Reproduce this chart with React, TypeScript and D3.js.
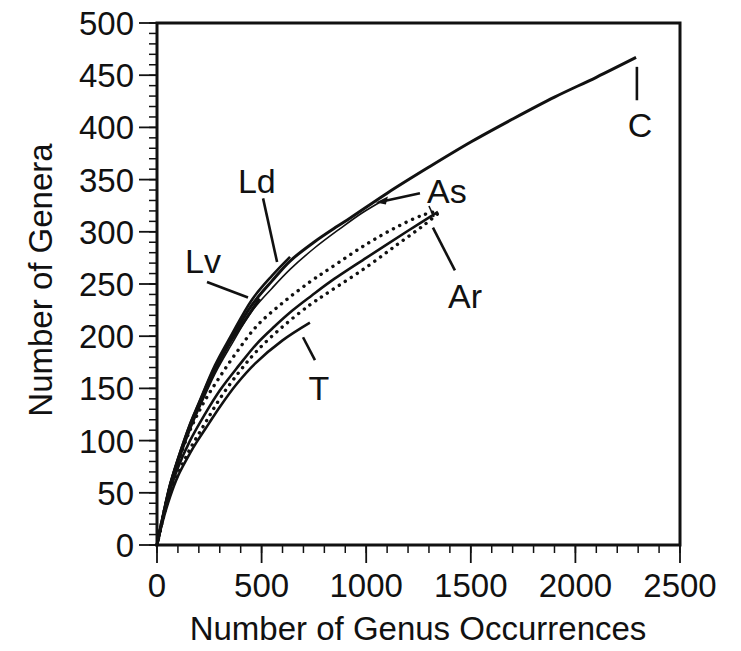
import React from "react";
import * as d3 from "d3";

type Pt = [number, number];

const seriesC: Pt[] = [[0,0],[25,24],[62,57],[100,82],[158,115],[200,135],[277,170],[350,196],[454,230],[550,253],[636,272],[750,290],[860,305],[922,313],[1100,337],[1300,362],[1500,386],[1700,408],[1900,429],[2100,448],[2290,467]];
const seriesLv: Pt[] = [[0,0],[25,24],[62,56],[100,81],[158,113],[200,133],[277,167],[350,194],[420,215],[490,236]];
const seriesLd: Pt[] = [[0,0],[25,24],[62,57],[100,82],[158,116],[200,136],[277,172],[350,199],[454,235],[550,258],[636,276]];
const seriesAs: Pt[] = [[0,0],[25,23],[62,54],[100,78],[158,110],[200,130],[277,164],[350,190],[454,224],[550,246],[636,264],[750,284],[875,303],[980,318],[1080,330]];
const seriesAr: Pt[] = [[0,0],[25,23],[62,52],[100,74],[158,100],[225,124],[300,148],[392,172],[478,193],[560,209],[650,225],[740,239],[827,252],[1000,275],[1200,301],[1343,319]];
const seriesArUpper: Pt[] = [[0,0],[25,24],[62,55],[100,79],[158,110],[225,137],[300,161],[382,185],[478,210],[607,233],[731,252],[827,265],[1000,288],[1150,305],[1270,316],[1340,320]];
const seriesArLower: Pt[] = [[0,0],[25,22],[62,49],[100,68],[158,92],[225,115],[300,140],[390,165],[478,186],[600,209],[731,230],[827,243],[1000,266],[1150,288],[1280,307],[1340,317]];
const seriesT: Pt[] = [[0,0],[25,21],[62,46],[100,66],[158,88],[191,99],[250,117],[301,132.5],[380,154],[470,174],[600,196],[731,213]];

const xTicks = [0, 500, 1000, 1500, 2000, 2500];
const yTicks = [0, 50, 100, 150, 200, 250, 300, 350, 400, 450, 500];

const labelTexts = ["C", "As", "Ar", "Ld", "Lv", "T"];
const labelX = [2309, 1291, 1391, 387, 134, 774];
const labelY = [391, 328, 227, 337, 261, 139];
const labelAnchor = ["middle", "start", "start", "start", "start", "middle"];
const leaders: [number, number, number, number][] = [
  [2294, 458, 2294, 426],
  [1075, 329, 1257, 337],
  [1319, 304, 1424, 263],
  [507, 332, 574, 271],
  [239, 252, 435, 237],
  [698, 199, 755, 177],
];

const W = 741;
const H = 651;
const FONT = "'Liberation Sans', Arial, Helvetica, sans-serif";

export default function App() {
  const x = d3.scaleLinear().domain([0, 2500]).range([157, 680]);
  const y = d3.scaleLinear().domain([0, 500]).range([545, 23]);
  const line = d3
    .line<Pt>()
    .x((d) => x(d[0]))
    .y((d) => y(d[1]))
    .curve(d3.curveCatmullRom.alpha(0.5));

  const xMinor = d3.range(0, 2501, 100);
  const yMinor = d3.range(0, 501, 10);

  const solid = [
    { d: seriesC, w: 3 },
    { d: seriesLv, w: 3 },
    { d: seriesLd, w: 2.6 },
    { d: seriesAs, w: 1.6 },
    { d: seriesAr, w: 2.6 },
    { d: seriesT, w: 2.6 },
  ];
  const dotted = [seriesArUpper, seriesArLower];
  const arEnd = seriesAr[seriesAr.length - 1];

  return (
    <svg
      width={W}
      height={H}
      style={{ position: "absolute", left: 0, top: 0, background: "#fff" }}
      fontFamily={FONT}
    >
      <rect x={0} y={0} width={W} height={H} fill="#fff" />
      {xMinor.map((v) => (
        <line key={"xm" + v} x1={x(v)} x2={x(v)} y1={545} y2={553} stroke="#111" strokeWidth={1.5} />
      ))}
      {yMinor.map((v) => (
        <line key={"ym" + v} x1={149} x2={157} y1={y(v)} y2={y(v)} stroke="#111" strokeWidth={1.5} />
      ))}
      {xTicks.map((v) => (
        <line key={"xM" + v} x1={x(v)} x2={x(v)} y1={545} y2={563} stroke="#111" strokeWidth={1.8} />
      ))}
      {yTicks.map((v) => (
        <line key={"yM" + v} x1={139} x2={157} y1={y(v)} y2={y(v)} stroke="#111" strokeWidth={1.8} />
      ))}
      <rect
        x={x(0)}
        y={y(500)}
        width={x(2500) - x(0)}
        height={y(0) - y(500)}
        fill="none"
        stroke="#111"
        strokeWidth={3}
      />
      {xTicks.map((v) => (
        <text key={"xl" + v} x={x(v)} y={597} textAnchor="middle" fontSize={33} fill="#111">
          {v}
        </text>
      ))}
      {yTicks.map((v) => (
        <text key={"yl" + v} x={134} y={y(v) + 12} textAnchor="end" fontSize={33} fill="#111">
          {v}
        </text>
      ))}
      <text x={418} y={640} textAnchor="middle" fontSize={33} fill="#111">
        Number of Genus Occurrences
      </text>
      <text transform={`translate(52,280) rotate(-90)`} textAnchor="middle" fontSize={33} fill="#111">
        Number of Genera
      </text>
      {dotted.map((d, i) => (
        <path
          key={"dot" + i}
          d={line(d) || ""}
          fill="none"
          stroke="#111"
          strokeWidth={3.4}
          strokeLinecap="round"
          strokeDasharray="0.1 7"
        />
      ))}
      {solid.map((s, i) => (
        <path key={"s" + i} d={line(s.d) || ""} fill="none" stroke="#111" strokeWidth={s.w} />
      ))}
      <line x1={x(arEnd[0]) - 9} y1={y(arEnd[1]) - 6} x2={x(arEnd[0]) - 4} y2={y(arEnd[1]) + 5} stroke="#111" strokeWidth={1.6} />
      {leaders.map((l, i) => (
        <line
          key={"ld" + i}
          x1={x(l[0])}
          y1={y(l[1])}
          x2={x(l[2])}
          y2={y(l[3])}
          stroke="#111"
          strokeWidth={2.6}
        />
      ))}
      <path
        d={`M${x(leaders[1][0]) - 6},${y(leaders[1][1]) + 1} L${x(leaders[1][0]) + 6},${y(leaders[1][1]) - 5} L${x(leaders[1][0]) + 4},${y(leaders[1][1]) + 3} Z`}
        fill="#111"
      />
      {labelTexts.map((t, i) => (
        <text
          key={"lab" + i}
          x={x(labelX[i])}
          y={y(labelY[i])}
          textAnchor={labelAnchor[i] as any}
          fontSize={34}
          fill="#111"
        >
          {t}
        </text>
      ))}
    </svg>
  );
}
